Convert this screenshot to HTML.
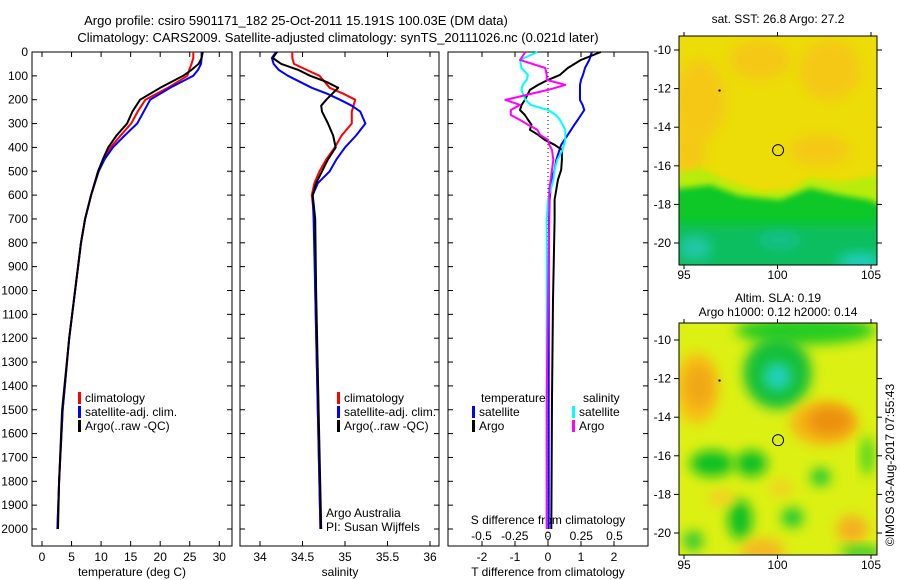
<!DOCTYPE html>
<html><head><meta charset="utf-8"><style>
html,body{margin:0;padding:0;background:#fff;width:900px;height:580px;overflow:hidden}
svg{display:block;font-family:"Liberation Sans",sans-serif;font-size:12px}
</style></head><body>
<svg id="c" width="900" height="580" xmlns="http://www.w3.org/2000/svg">
<defs>
<filter id="b1" x="-50%" y="-50%" width="200%" height="200%"><feGaussianBlur stdDeviation="6"/></filter>
<filter id="b2" x="-50%" y="-50%" width="200%" height="200%"><feGaussianBlur stdDeviation="9"/></filter>
<filter id="b3" x="-50%" y="-50%" width="200%" height="200%"><feGaussianBlur stdDeviation="3"/></filter>
<clipPath id="m1c"><rect x="679" y="36" width="198" height="229"/></clipPath>
<clipPath id="m2c"><rect x="679" y="323" width="198" height="232"/></clipPath>
</defs>
<text x="296" y="25" text-anchor="middle" font-size="13">Argo profile: csiro 5901171_182 25-Oct-2011 15.191S 100.03E (DM data)</text>
<text x="338" y="42" text-anchor="middle" font-size="13">Climatology: CARS2009. Satellite-adjusted climatology: synTS_20111026.nc (0.021d later)</text>
<g id="g"></g>
</svg>
<script>
// ---- data ----
const tDepth=[0,25,50,75,100,150,200,250,300,350,400,450,500,600,700,800,1000,1200,1500,1800,2000];
const tClim =[25.6,25.6,25.3,24.9,24.6,21.3,17.5,16.2,15.1,13.3,11.6,10.4,9.5,8.3,7.3,6.6,5.6,4.6,3.5,2.9,2.6];
const tSat  =[27.0,27.0,26.9,26.4,25.6,21.7,18.3,17.2,16.1,14.0,12.0,10.6,9.6,8.3,7.3,6.6,5.6,4.6,3.5,2.9,2.6];
const tArgo =[27.2,27.0,26.5,25.3,23.9,20.0,16.6,15.3,14.4,12.6,11.2,10.3,9.5,8.3,7.3,6.6,5.6,4.6,3.4,2.9,2.7];
const sDepth=[0,25,50,75,100,125,150,175,200,225,250,300,350,400,450,500,550,600,700,1000,1500,2000];
const sClim =[34.38,34.38,34.4,34.55,34.7,34.76,34.82,34.98,35.12,35.1,35.08,35.08,34.96,34.88,34.78,34.7,34.64,34.61,34.64,34.65,34.68,34.71];
const sSat  =[34.19,34.14,34.16,34.22,34.33,34.47,34.61,34.79,34.94,35.08,35.18,35.24,35.13,35.0,34.9,34.82,34.68,34.62,34.63,34.65,34.68,34.71];
const sArgo =[34.2,34.15,34.25,34.45,34.59,34.78,34.92,34.85,34.78,34.72,34.73,34.8,34.86,34.89,34.8,34.73,34.66,34.62,34.65,34.66,34.69,34.72];
const dDepth=[0,33,67,96,117,138,159,201,222,243,264,285,305,326,347,368,389,410,452,494,536,577,619,703,1038,1456,2000];
const dTSat =[1.33,1.25,1.12,1.06,1.0,0.97,0.97,0.97,1.05,1.1,1.0,0.9,0.8,0.7,0.6,0.5,0.4,0.35,0.25,0.2,0.1,0.08,0.05,0.03,0.02,0.02,0.02];
const dTArgo=[1.6,1.0,0.6,0.36,0.0,-0.3,-0.55,-0.7,-0.8,-0.85,-0.7,-0.6,-0.5,-0.55,-0.3,-0.1,0.2,0.42,0.42,0.4,0.3,0.25,0.2,0.2,0.15,0.12,0.1];
const dSSat =[-0.08,-0.21,-0.2,-0.15,-0.16,-0.19,-0.2,-0.17,-0.13,0.0,0.06,0.09,0.11,0.13,0.13,0.13,0.12,0.11,0.07,0.05,0.04,0.02,0.0,-0.01,-0.01,-0.01,-0.01];
const dSArgo=[-0.17,-0.21,-0.02,-0.01,-0.01,0.13,0.0,-0.32,-0.21,-0.28,-0.28,-0.21,-0.15,-0.08,-0.06,0.0,0.01,0.03,0.04,0.03,0.02,0.01,0.01,0.01,0.0,-0.01,-0.01];
const depthTicks=[0,100,200,300,400,500,600,700,800,900,1000,1100,1200,1300,1400,1500,1600,1700,1800,1900,2000];
const tTicks=[0,5,10,15,20,25,30];
const sTicks=[34,34.5,35,35.5,36];
const dTTicks=[-2,-1,0,1,2];
const dSTicks=[-0.5,-0.25,0,0.25,0.5];
const dSLabels=["-0.5","-0.25","0","0.25","0.5"];
const latTicks=[-10,-12,-14,-16,-18,-20];
const lonTicks=[95,100,105];
const argoPos=[100.03,-15.191];

const NS="http://www.w3.org/2000/svg",G=document.getElementById('g');
function mk(tag,at,txt,par){const e=document.createElementNS(NS,tag);for(const k in at)e.setAttribute(k,at[k]);if(txt!==undefined)e.textContent=txt;(par||G).appendChild(e);return e;}
const Y0=52,Y1=546,yD=d=>Y0+d*0.2385;
const xT=v=>42+v*5.91, xS=v=>260+(v-34)*85, xDT=v=>548+v*33, xDS=v=>548+v*133;
const panels=[[32,232],[240,439],[448,648]];

depthTicks.forEach(d=>{const t=mk('text',{x:28,y:yD(d)+4,'text-anchor':'end'},String(d));

});

function frame(x0,x1,name){const r=mk('rect',{x:x0,y:Y0,width:x1-x0,height:Y1-Y0,fill:'none',stroke:'#000','stroke-width':1});


depthTicks.forEach(d=>{mk('line',{x1:x0,x2:x0+5,y1:yD(d),y2:yD(d),stroke:'#000'});mk('line',{x1:x1-5,x2:x1,y1:yD(d),y2:yD(d),stroke:'#000'});});}
panels.forEach((p,i)=>frame(p[0],p[1],'panel-frame-'+(i+1)));

function xticks(vals,fx,labels,ly,top){vals.forEach((v,i)=>{const x=fx(v);mk('line',{x1:x,x2:x,y1:Y1,y2:Y1-5,stroke:'#000'});if(top)mk('line',{x1:x,x2:x,y1:Y0,y2:Y0+5,stroke:'#000'});
const t=mk('text',{x:x,y:ly,'text-anchor':'middle'},labels?labels[i]:String(v));

});}
xticks(tTicks,xT,null,561,true);
xticks(sTicks,xS,null,561,true);
xticks(dTTicks,xDT,null,561,true);
dSTicks.forEach((v,i)=>{const t=mk('text',{x:xDS(v),y:540,'text-anchor':'middle'},dSLabels[i]);

});

function lab(x,y,s,name,anchor){const t=mk('text',{x:x,y:y,'text-anchor':anchor||'middle'},s);

return t;}
lab(132,576,'temperature (deg C)','x-axis-title-temperature');
lab(340,576,'salinity','x-axis-title-salinity');
lab(548,576,'T difference from climatology','x-axis-title-t-diff');
lab(548,524,'S difference from climatology','s-diff-axis-title');

function line(xs,ds,fx,col,w,name){const pts=xs.map((v,i)=>fx(v).toFixed(1)+','+yD(ds[i]).toFixed(1)).join(' ');
const p=mk('polyline',{points:pts,fill:'none',stroke:col,'stroke-width':w,'stroke-linejoin':'round'});

}
line(tClim,tDepth,xT,'#f00',2,'temperature-climatology-line');
line(tSat,tDepth,xT,'#00f',2,'temperature-satellite-line');
line(tArgo,tDepth,xT,'#000',2,'temperature-argo-line');
line(sClim,sDepth,xS,'#f00',2,'salinity-climatology-line');
line(sSat,sDepth,xS,'#00f',2,'salinity-satellite-line');
line(sArgo,sDepth,xS,'#000',2,'salinity-argo-line');
mk('line',{x1:548,x2:548,y1:Y0,y2:Y1,stroke:'#000','stroke-dasharray':'1,3'});
line(dTSat,dDepth,xDT,'#00f',2,'t-diff-satellite-line');
line(dTArgo,dDepth,xDT,'#000',2,'t-diff-argo-line');
line(dSSat,dDepth,xDS,'#0ff',2,'s-diff-satellite-line');
line(dSArgo,dDepth,xDS,'#f0f',2,'s-diff-argo-line');

function leg(x,y,col,s,name){mk('rect',{x:x,y:y-10,width:3,height:12,fill:col});const t=mk('text',{x:x+7,y:y},s);

}
leg(78,402,'#f00','climatology','legend-climatology');
leg(78,416,'#00f','satellite-adj. clim.','legend-satellite');
leg(78,430,'#000','Argo(..raw -QC)','legend-argo');
leg(337,402,'#f00','climatology','legend-climatology-2');
leg(337,416,'#00f','satellite-adj. clim.','legend-satellite-2');
leg(337,430,'#000','Argo(..raw -QC)','legend-argo-2');
lab(481,402,'temperature','legend-temperature-heading','start');
lab(583,402,'salinity','legend-salinity-heading','start');
leg(472,416,'#00f','satellite','legend-t-satellite');
leg(472,430,'#000','Argo','legend-t-argo');
leg(572,416,'#0ff','satellite','legend-s-satellite');
leg(572,430,'#f0f','Argo','legend-s-argo');
lab(326,517,'Argo Australia','credit-argo-australia','start');
lab(326,531,'PI: Susan Wijffels','credit-pi','start');

const mx=v=>684+(v-95)*18.7;
function mapAxes(top,bot,y10,name){const my=v=>y10+(-10-v)*19.3;
const r=mk('rect',{x:679,y:top,width:198,height:bot-top,fill:'none',stroke:'#000'});


latTicks.forEach(v=>{mk('line',{x1:679,x2:674,y1:my(v),y2:my(v),stroke:'#000'});mk('line',{x1:877,x2:882,y1:my(v),y2:my(v),stroke:'#000'});
const t=mk('text',{x:671,y:my(v)+4,'text-anchor':'end'},String(v));

});
lonTicks.forEach(v=>{mk('line',{x1:mx(v),x2:mx(v),y1:top,y2:top-4,stroke:'#000'});mk('line',{x1:mx(v),x2:mx(v),y1:bot,y2:bot+4,stroke:'#000'});
const t=mk('text',{x:mx(v),y:bot+14,'text-anchor':'middle'},String(v));

});
const c=mk('circle',{cx:mx(argoPos[0]),cy:my(argoPos[1]),r:5.5,fill:'none',stroke:'#000'});


mk('circle',{cx:mx(96.9),cy:my(-12.1),r:1.2,fill:'#000'});return my;}

// map 1
const g1=mk('g',{'clip-path':'url(#m1c)'});


mk('rect',{x:679,y:36,width:198,height:229,fill:'#ecdc08'},undefined,g1);
[[700,100,25,40],[760,60,30,20],[830,70,30,30],[690,150,15,25],[820,150,30,15]].forEach(e=>mk('ellipse',{cx:e[0],cy:e[1],rx:e[2],ry:e[3],fill:'#f5c818',filter:'url(#b1)'},undefined,g1));
mk('path',{d:'M670 175 L700 168 L730 182 L760 192 L790 190 L810 178 L840 182 L880 175 L880 210 L670 210Z',fill:'#b8ec08',filter:'url(#b3)'},undefined,g1);
mk('path',{d:'M670 190 L710 185 L740 196 L780 200 L810 188 L840 195 L870 200 L890 210 L890 280 L670 280Z',fill:'#10c828',filter:'url(#b3)'},undefined,g1);
mk('rect',{x:670,y:225,width:220,height:50,fill:'#10be60',filter:'url(#b1)'},undefined,g1);
mk('ellipse',{cx:695,cy:248,rx:16,ry:12,fill:'#20c8a8',filter:'url(#b1)'},undefined,g1);
mk('ellipse',{cx:780,cy:240,rx:20,ry:8,fill:'#18c090',filter:'url(#b1)'},undefined,g1);
mk('ellipse',{cx:860,cy:262,rx:22,ry:8,fill:'#20d0c8',filter:'url(#b1)'},undefined,g1);
mapAxes(36,265,50,'sst-map-frame');
// map 2
const g2=mk('g',{'clip-path':'url(#m2c)'});


mk('rect',{x:679,y:323,width:198,height:232,fill:'#dcf014'},undefined,g2);
const blobs=[[101.5,-9.5,70,14,'#28cc20'],[95.7,-12.5,22,36,'#f8c018'],[95.8,-12.4,14,22,'#f0a818'],[100,-11.7,34,36,'#18c038'],[100,-11.9,14,14,'#20d0b8'],[102.5,-14.3,34,22,'#f5b418'],[102.8,-14.2,22,14,'#ec9010'],[96.5,-16.4,22,13,'#10c020'],[98.6,-16.4,16,13,'#10c020'],[102.3,-17.1,10,9,'#20c830'],[98,-19.3,12,20,'#10c020'],[100.8,-19.2,11,10,'#20c830'],[95.5,-20.4,10,10,'#30c830'],[99.2,-20.9,22,12,'#f5b820'],[104,-19.8,16,14,'#f5b020'],[104.5,-21,22,6,'#20c830'],[97,-18.2,14,8,'#f2d020'],[100.2,-17.7,12,8,'#f2d020'],[104.8,-16,6,20,'#40d020']];
const my2=v=>340+(-10-v)*19.3;
blobs.forEach(b=>mk('ellipse',{cx:mx(b[0]),cy:my2(b[1]),rx:b[2],ry:b[3],fill:b[4],filter:'url(#b1)'},undefined,g2));
mapAxes(323,555,340,'sla-map-frame');
lab(778,23,'sat. SST: 26.8 Argo: 27.2','sst-map-title');
lab(778,302,'Altim. SLA: 0.19','sla-map-title');
lab(778,316,'Argo h1000: 0.12 h2000: 0.14','sla-map-subtitle');
const cr=lab(0,0,'©IMOS 03-Aug-2017 07:55:43','copyright-stamp');
cr.setAttribute('transform','translate(894,465) rotate(-90)');
</script>
</body></html>
